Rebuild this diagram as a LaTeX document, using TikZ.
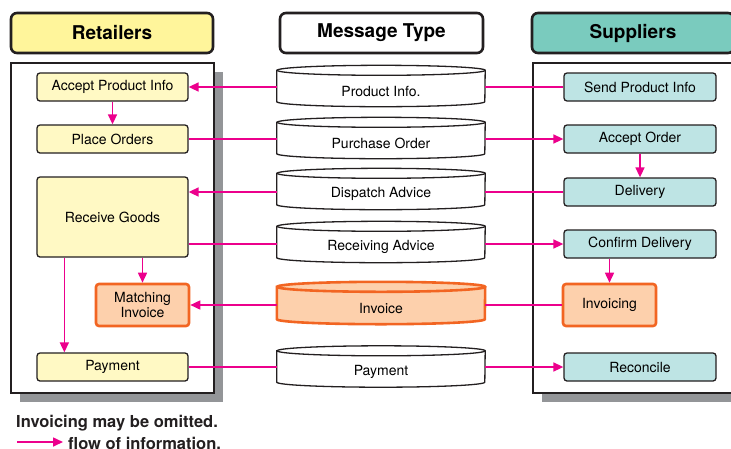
\documentclass[tikz,border=0pt]{standalone}
\usepackage{fontspec}
\setmainfont{TeX Gyre Heros}
\usetikzlibrary{arrows.meta,shadows,backgrounds}
\definecolor{flowc}{HTML}{EC008C}
\definecolor{edgec}{HTML}{231F20}
\definecolor{rethdr}{HTML}{FFF59B}
\definecolor{retfill}{HTML}{FFF9C4}
\definecolor{suphdr}{HTML}{7ACBBE}
\definecolor{supfill}{HTML}{BEE4E4}
\definecolor{orc}{HTML}{F26522}
\definecolor{orfill}{HTML}{FDD0AC}
\definecolor{shadowc}{HTML}{939598}
\newcommand\drawcyl[2]{%
  \path[#1] ([yshift=5pt]#2.north west) -- ([yshift=5pt]#2.south west)
    arc[start angle=180,end angle=360,x radius=104pt,y radius=5pt]
    -- ([yshift=5pt]#2.north east)
    arc[start angle=0,end angle=180,x radius=104pt,y radius=5pt] -- cycle;
  \path[#1,fill=none] ([yshift=5pt]#2.north east)
    arc[start angle=0,end angle=-180,x radius=104pt,y radius=5pt];}
\begin{document}
\begin{tikzpicture}[x=1pt,y=1pt,
  hdr/.style={draw=edgec, line width=2.6pt, rounded corners=6pt, minimum height=40pt,
    font=\fontsize{19}{22}\selectfont\bfseries, inner sep=0pt},
  panel/.style={draw=edgec, line width=2.6pt, fill=white,
    general shadow={fill=shadowc, shadow xshift=9pt, shadow yshift=-9pt},
    minimum width=203pt, minimum height=330pt, inner sep=0pt},
  bx/.style={draw=edgec, line width=1.3pt, rounded corners=3pt, minimum height=28pt,
    font=\fontsize{14}{16}\selectfont, inner sep=0pt},
  retbox/.style={bx, fill=retfill, minimum width=151pt},
  supbox/.style={bx, fill=supfill, minimum width=152pt},
  orbox/.style={draw=orc, line width=2.6pt, fill=orfill, rounded corners=3pt,
    minimum width=93pt, minimum height=42pt, align=center, inner sep=0pt,
    font=\fontsize{14}{15.5}\selectfont},
  msg/.style={minimum width=208pt, minimum height=31pt, inner sep=0pt,
    font=\fontsize{14}{16}\selectfont},
  cylw/.style={draw=edgec, line width=1.3pt, fill=white},
  cylo/.style={draw=orc, line width=2.6pt, fill=orfill},
  link/.style={draw=flowc, line width=1.6pt},
  flow/.style={link, -{Triangle[length=10pt,width=9pt]}},
  legend/.style={font=\fontsize{16.5}{18}\selectfont\bfseries, inner sep=0pt, text=edgec}
]
\useasboundingbox (0,0) rectangle (731,-448);
\clip (0,0) rectangle (731,-448);

% headers
\node[hdr, fill=rethdr, minimum width=202pt] (hr) at (112,-33) {Retailers};
\node[hdr, fill=white, minimum width=203pt] (hm) at (381.5,-33) {Message Type};
\node[hdr, fill=suphdr, minimum width=202pt] (hs) at (633,-33) {Suppliers};

% panels
\node[panel] (pr) at (112.5,-228) {};
\node[panel] (ps) at (634.5,-228) {};

% retailer boxes
\node[retbox] (acc) at (112.5,-87) {Accept Product Info};
\node[retbox] (place) at (112.5,-139) {Place Orders};
\node[retbox, minimum height=80pt] (goods) at (112.5,-217) {Receive Goods};
\node[orbox] (match) at (142.5,-305) {Matching\\Invoice};
\node[retbox] (pay) at (112.5,-367) {Payment};

% supplier boxes
\node[supbox] (send) at (640,-87) {Send Product Info};
\node[supbox] (aord) at (640,-139) {Accept Order};
\node[supbox] (deliv) at (640,-192) {Delivery};
\node[supbox] (conf) at (640,-244) {Confirm Delivery};
\node[orbox] (inv) at (609.5,-305) {Invoicing};
\node[supbox] (rec) at (640,-367) {Reconcile};

% messages
\node[msg] (m1) at (381,-91) {Product Info.};
\node[msg] (m2) at (381,-143) {Purchase Order};
\node[msg] (m3) at (381,-194) {Dispatch Advice};
\node[msg] (m4) at (381,-247) {Receiving Advice};
\node[msg, minimum height=32pt] (m5) at (381,-308) {Invoice};
\node[msg] (m6) at (381,-371.5) {Payment};
\begin{scope}[on background layer]
  \drawcyl{cylw}{m1}
  \drawcyl{cylw}{m2}
  \drawcyl{cylw}{m3}
  \drawcyl{cylw}{m4}
  \drawcyl{cylo}{m5}
  \drawcyl{cylw}{m6}
\end{scope}

% internal arrows
\draw[flow] (acc) -- (place);
\draw[flow] (aord) -- (deliv);
\draw[flow] (goods.south -| match.north) -- (match.north);
\draw[flow] ([xshift=28pt]goods.south west) -- ([xshift=28pt]goods.south west |- pay.north);
\draw[flow] (conf.south -| inv.north) -- (inv.north);

% message flows
\draw[link] (send.west) -- (send.west -| m1.east);
\draw[flow] (acc.east -| m1.west) -- (acc.east);
\draw[link] (place.east) -- (place.east -| m2.west);
\draw[flow] (aord.west -| m2.east) -- (aord.west);
\draw[link] (deliv.west) -- (deliv.west -| m3.east);
\draw[flow] (deliv.west -| m3.west) -- (deliv.west -| goods.east);
\draw[link] (conf.west -| goods.east) -- (conf.west -| m4.west);
\draw[flow] (conf.west -| m4.east) -- (conf.west);
\draw[link] (inv.west) -- (inv.west -| m5.east);
\draw[flow] (match.east -| m5.west) -- (match.east);
\draw[link] (pay.east) -- (pay.east -| m6.west);
\draw[flow] (rec.west -| m6.east) -- (rec.west);

% legend
\node[legend, anchor=base west] (note) at (16,-427) {Invoicing may be omitted.};
\coordinate (la) at (17,-442);
\coordinate (lb) at (63,-442);
\draw[flow] (la) -- (lb);
\node[legend, anchor=base west] (ltxt) at (68,-449) {flow of information.};
\end{tikzpicture}
\end{document}
